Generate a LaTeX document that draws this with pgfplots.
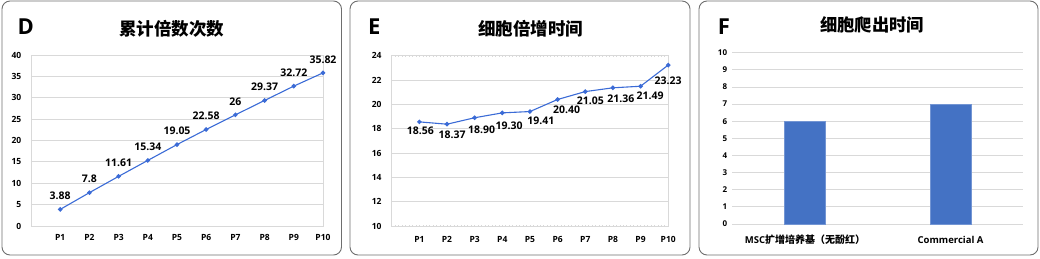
\documentclass[border=0pt]{standalone}
\usepackage{pgfplots}
\pgfplotsset{compat=1.18}
\usepackage{fontspec}
\setmainfont{Open Sans}
\newfontfamily\cjk{Noto Sans CJK SC}
\definecolor{lineblue}{RGB}{59,107,214}
\definecolor{barblue}{RGB}{68,114,196}
\definecolor{gridgray}{RGB}{217,217,217}
\definecolor{boxgray}{RGB}{110,110,110}

\pgfplotstableread{
x y lab
1 3.88 3.88
2 7.8 7.8
3 11.61 11.61
4 15.34 15.34
5 19.05 19.05
6 22.58 22.58
7 26 26
8 29.37 29.37
9 32.72 32.72
10 35.82 35.82
}\tabD

\pgfplotstableread{
x y lab dx dy
1 18.56 18.56 1 -8.7
2 18.37 18.37 5 -10.7
3 18.90 18.90 7 -11.7
4 19.30 19.30 6.7 -13.3
5 19.41 19.41 11 -9.3
6 20.40 20.40 9 -10.7
7 21.05 21.05 5 -9
8 21.36 21.36 8 -11
9 21.49 21.49 9.5 -10
10 23.23 23.23 0 -16
}\tabE

\pgfplotsset{
  panel/.style={
    scale only axis, clip=false,
    /pgf/number format/assume math mode=true,
    ticklabel style={font=\bfseries\fontsize{8.5}{9}\selectfont, inner sep=0pt},
    major tick length=0pt,
    ymajorgrids,
    grid style={gridgray, line width=0.8pt},
    yticklabel style={anchor=east},
    xticklabel style={anchor=center, font=\bfseries\fontsize{8.5}{9}\selectfont},
  }
}

\begin{document}
\begin{tikzpicture}
\useasboundingbox (0pt,0pt) rectangle (1040pt,258pt);
% panel frames
\draw[boxgray, line width=0.9pt, rounded corners=8pt] (2pt,3pt) rectangle (341.5pt,257pt);
\draw[boxgray, line width=0.9pt, rounded corners=8pt] (350pt,3pt) rectangle (690pt,257pt);
\draw[boxgray, line width=0.9pt, rounded corners=8pt] (699pt,3pt) rectangle (1038pt,257pt);
% letters
\node[font=\bfseries\fontsize{22}{22}\selectfont] at (25.8pt,231pt) {D};
\node[font=\bfseries\fontsize{22}{22}\selectfont] at (374.2pt,231pt) {E};
\node[font=\bfseries\fontsize{22}{22}\selectfont] at (723.8pt,231pt) {F};
% titles
\node[font=\cjk\bfseries\fontsize{17.5}{17.5}\selectfont] at (171.7pt,228.7pt) {累计倍数次数};
\node[font=\cjk\bfseries\fontsize{17.5}{17.5}\selectfont] at (530.8pt,229.7pt) {细胞倍增时间};
\node[font=\cjk\bfseries\fontsize{17.3}{17.3}\selectfont] at (872.2pt,233pt) {细胞爬出时间};

% ---------- D ----------
\begin{axis}[panel, at={(31pt,32pt)}, anchor=south west, width=292pt, height=171pt,
  xmin=0, xmax=10, ymin=0, ymax=40, ytick={0,5,...,40},
  xtick={1,2,3,4,5,6,7,8,9,10},
  xticklabels={P1,P2,P3,P4,P5,P6,P7,P8,P9,P10},
  axis line style={gridgray, line width=0.8pt},
  yticklabel style={xshift=-9.5pt},
  xticklabel style={yshift=-11.3pt},
  point meta=explicit symbolic,
  nodes near coords={\pgfplotspointmeta},
  nodes near coords style={anchor=center, yshift=13.5pt, inner sep=0pt, text=black, font=\bfseries\fontsize{10.5}{10.5}\selectfont},
]
\addplot[lineblue, line width=1.1pt, mark=*, mark size=1.7pt] table[x=x, y=y, meta=lab] {\tabD};
\end{axis}

% ---------- E ----------
\begin{axis}[panel, at={(391.7pt,32pt)}, anchor=south west, width=276.5pt, height=170.3pt,
  xmin=0, xmax=10, ymin=10, ymax=24, ytick={10,12,...,24},
  xtick={1,2,3,4,5,6,7,8,9,10},
  xticklabels={P1,P2,P3,P4,P5,P6,P7,P8,P9,P10},
  minor xtick={0,0.125,...,10},
  minor tick length=1.5pt,
  minor tick style={gridgray, line width=0.6pt},
  axis line style={gridgray, line width=0.8pt},
  yticklabel style={xshift=-10pt},
  xticklabel style={yshift=-13.3pt},
  point meta=explicit symbolic,
  visualization depends on={\thisrow{dx} \as \dx},
  visualization depends on={\thisrow{dy} \as \dy},
  nodes near coords={\pgfplotspointmeta},
  every node near coord/.append style={anchor=center, xshift=\dx pt, yshift=\dy pt, inner sep=0pt, text=black, font=\bfseries\fontsize{10.5}{10.5}\selectfont},
]
\addplot[lineblue, line width=1.1pt, mark=*, mark size=1.7pt] table[x=x, y=y, meta=lab] {\tabE};
\end{axis}

% ---------- F ----------
\begin{axis}[panel, at={(732.3pt,34pt)}, anchor=south west, width=291pt, height=171.3pt,
  xmin=-0.5, xmax=1.5, ymin=0, ymax=10, ytick={0,1,...,10},
  xtick={0,1},
  xticklabels={{MSC{\cjk\fontsize{10}{10}\selectfont 扩增培养基（无酚红）}}, Commercial A},
  axis line style={draw=none},
  yticklabel style={xshift=-5pt, font=\bfseries\fontsize{8}{8}\selectfont},
  xticklabel style={yshift=-16pt, font=\bfseries\fontsize{9.5}{10}\selectfont},
]
\addplot[ybar, bar width=41pt, fill=barblue, draw=barblue!75!white, line width=0.6pt] coordinates {(0,6) (1,7)};
\end{axis}
\end{tikzpicture}
\end{document}
